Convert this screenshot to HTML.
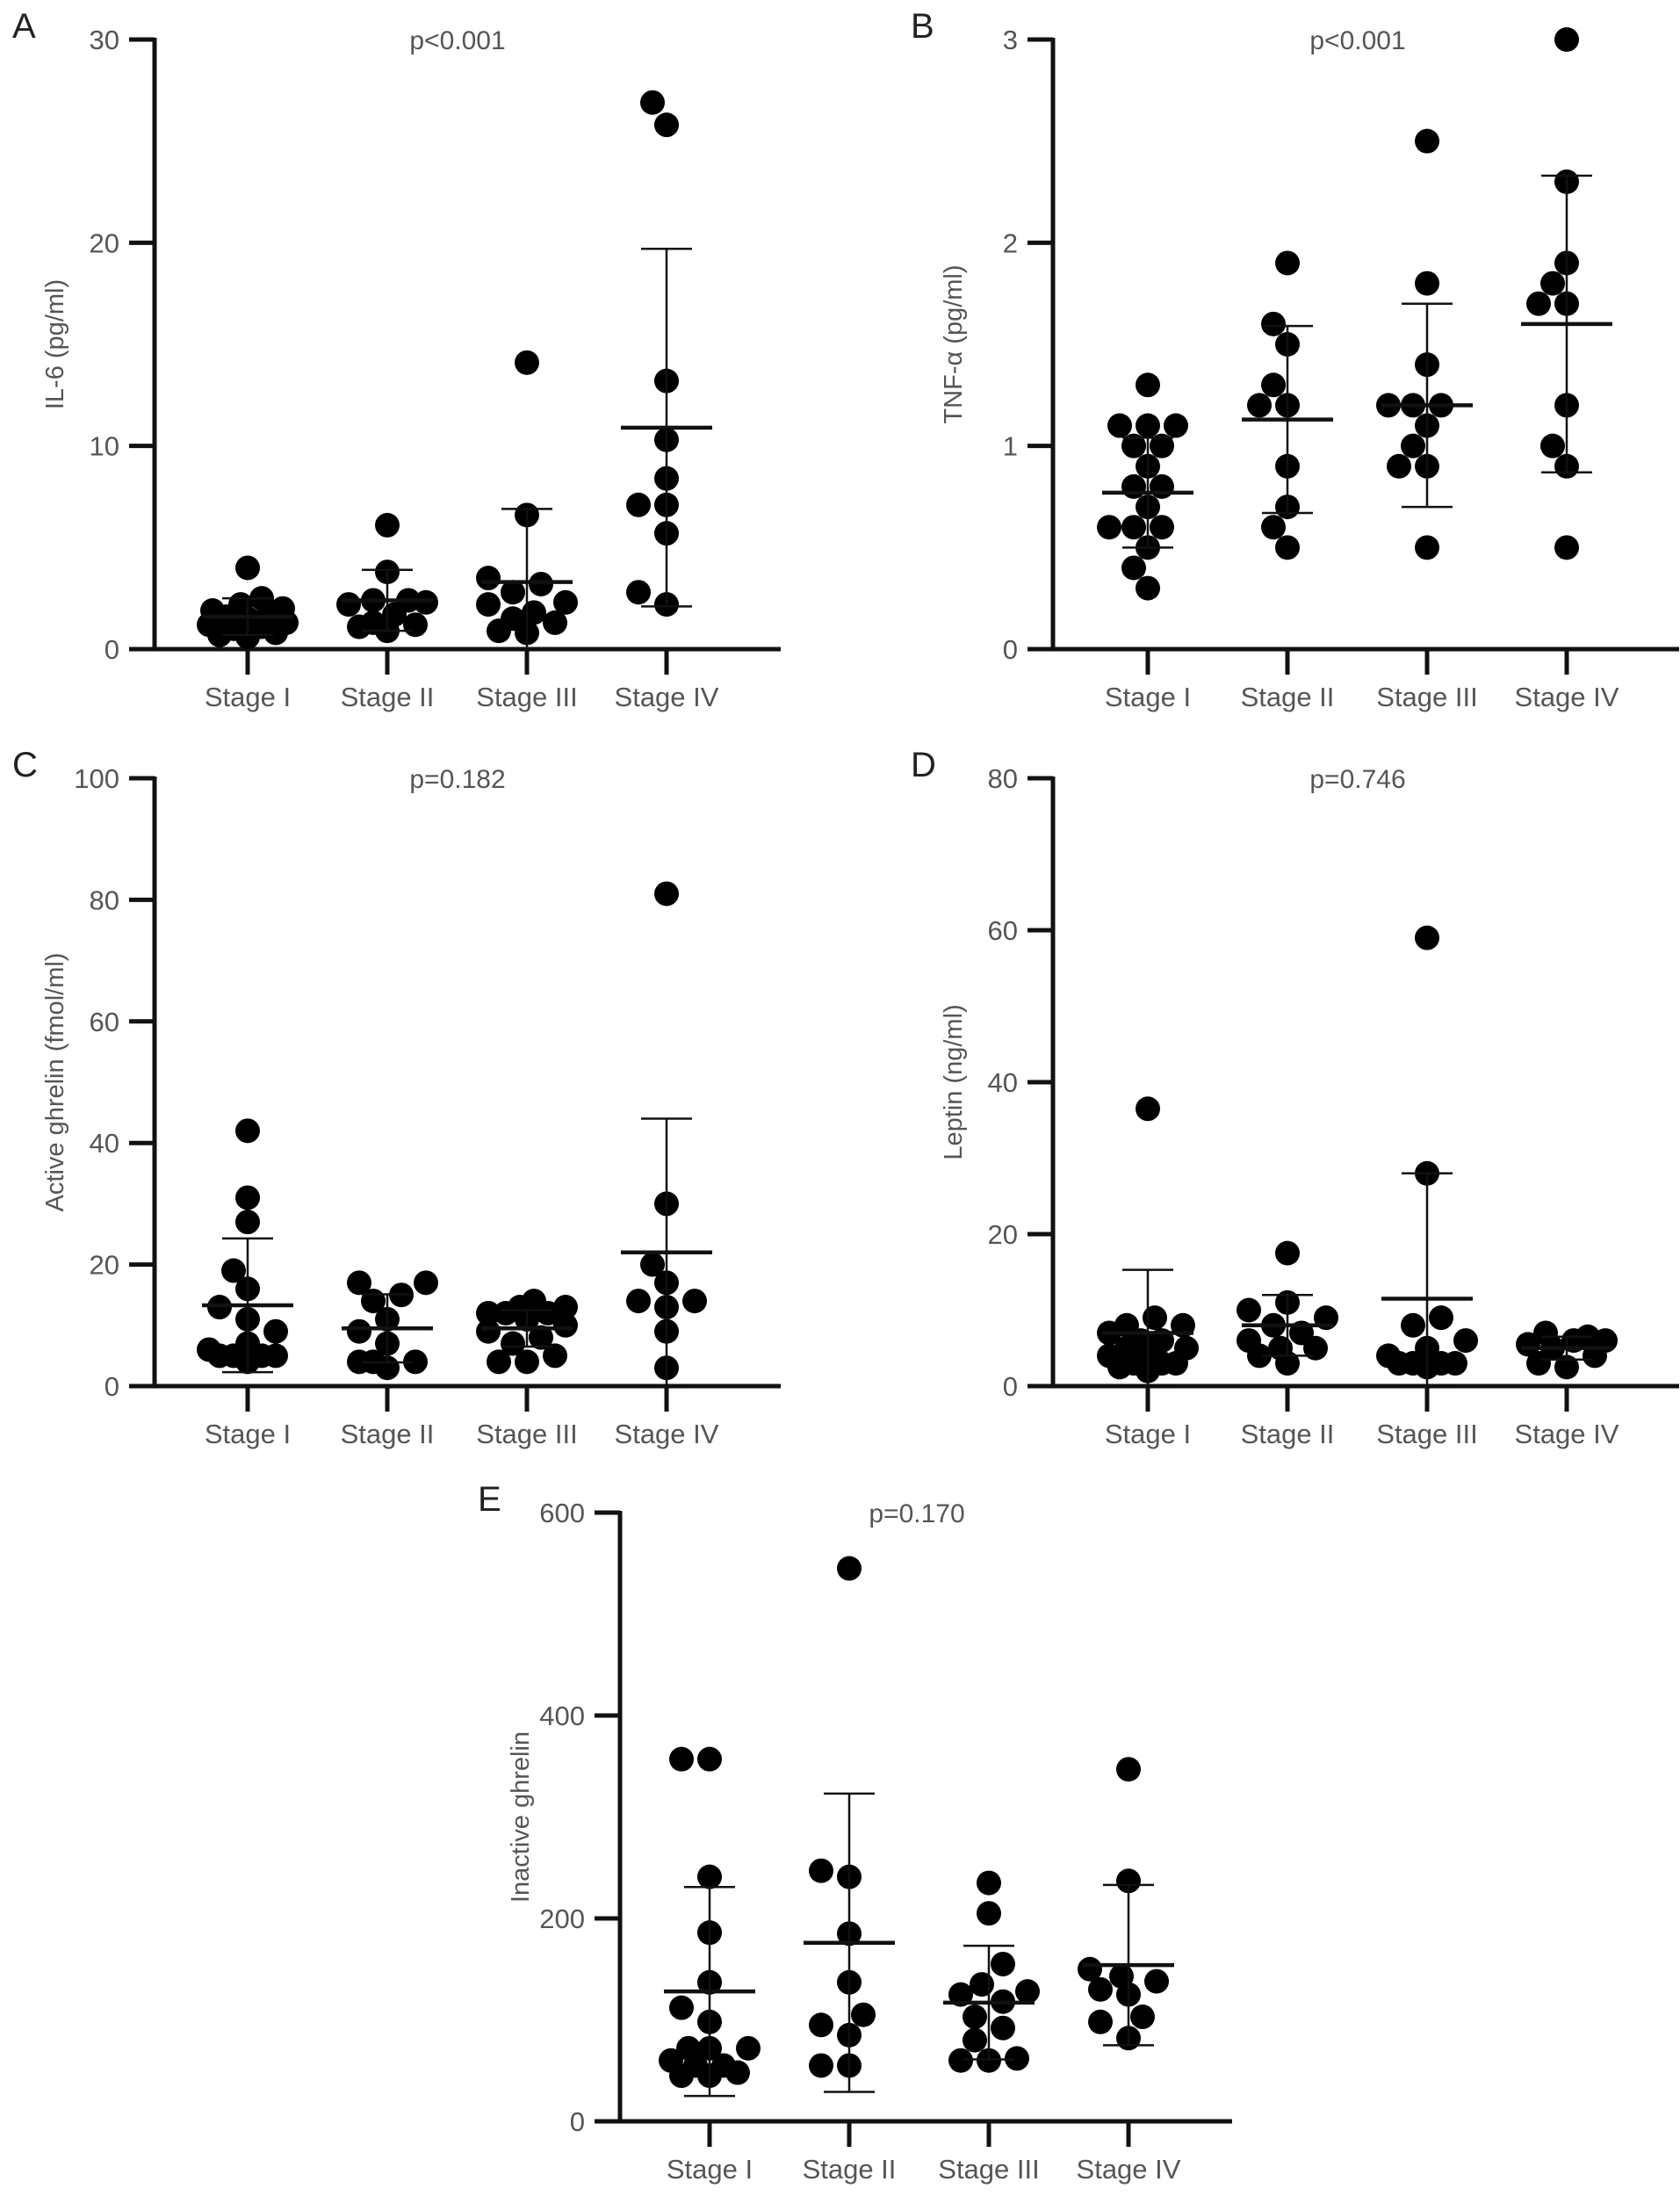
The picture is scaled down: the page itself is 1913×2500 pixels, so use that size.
<!DOCTYPE html>
<html><head><meta charset="utf-8"><style>
html,body{margin:0;padding:0;background:#fff;}
svg{display:block;font-family:"Liberation Sans",Arial,sans-serif;}
</style></head>
<body>
<svg id="fig" width="1913" height="2500" viewBox="0 0 1913 2500" xmlns="http://www.w3.org/2000/svg"></svg>
<script>
const categories = ["Stage I","Stage II","Stage III","Stage IV"];

const il6Values = [
  [4.0,2.5,2.2,2.0,1.8,1.5,1.2,1.0,0.8,0.7,1.3,1.9,1.1,0.6,1.6],
  [6.1,3.8,2.4,2.3,2.2,1.3,1.2,1.1,0.9,1.7,2.4],
  [14.1,6.6,3.5,3.2,2.8,2.3,2.2,1.8,1.3,1.5,0.9,0.8],
  [26.9,25.8,13.2,10.3,8.4,7.1,7.1,5.7,2.8,2.2]
];
const il6Means = [1.6,2.4,3.3,10.9];
const il6Sds = [0.9,1.5,3.6,8.8];
const il6Ticks = [0,10,20,30];

const tnfValues = [
  [1.3,1.1,1.1,1.1,1.0,1.0,0.9,0.8,0.7,0.6,0.6,0.6,0.5,0.4,0.3,0.8],
  [1.9,1.6,1.5,1.3,1.2,1.2,0.9,0.7,0.6,0.5],
  [2.5,1.8,1.4,1.2,1.2,1.2,1.1,1.0,0.9,0.9,0.5],
  [3.0,2.3,1.9,1.8,1.7,1.7,1.2,1.0,0.9,0.5]
];
const tnfMeans = [0.77,1.13,1.2,1.6];
const tnfSds = [0.27,0.46,0.5,0.73];
const tnfTicks = [0,1,2,3];

const activeValues = [
  [42,31,27,19,16,13,11,9,7,6,5,5,5,5,4],
  [17,15,14,17,11,9,7,4,4,4,3],
  [13,13,12,12,12,14,11,10,9,8,7,5,4,4],
  [81,30,20,17,14,14,13,9,3]
];
const activeMeans = [13.3,9.5,9.5,22];
const activeSds = [11,5.6,3,22];
const activeTicks = [0,20,40,60,80,100];

const leptinValues = [
  [36.5,9,8,8,7,6,6,5,5,4,4,3,3,3,2.5,2],
  [17.5,11,10,9,8,7,6,5,5,4,3],
  [59,28,9,8,6,5,4,3,3,3,3,2.5],
  [7,6.5,6,6,5.5,5,4,3,2.5]
];
const leptinMeans = [7,8,11.5,5];
const leptinSds = [8.3,4,16.5,1.5];
const leptinTicks = [0,20,40,60,80];

const inactiveValues = [
  [357,357,241,186,137,112,98,72,72,72,60,55,55,45,45,48],
  [545,247,241,185,137,105,95,85,55,55],
  [235,205,155,135,128,125,118,103,92,80,62,60,60],
  [347,237,150,143,138,130,125,103,98,82]
];
const inactiveMeans = [128,176,117,154];
const inactiveSds = [103,147,56,79];
const inactiveTicks = [0,200,400,600];

const NS = "http://www.w3.org/2000/svg";
const svg = document.getElementById("fig");
function mk(tag, attrs, parent){
  const e = document.createElementNS(NS, tag);
  for (const k in attrs) e.setAttribute(k, attrs[k]);
  (parent||svg).appendChild(e);
  return e;
}

function panel(cfg){
  const g = mk("g", {});
  
  
  const yMax = cfg.ticks[cfg.ticks.length-1];
  const yS = v => cfg.yBot - (v / yMax) * (cfg.yBot - cfg.yTop);
  const xS = i => cfg.cat0 + i * 159;
  const L = mk("text", {x:cfg.axisX-162, y:cfg.yTop-2, "font-size":40, fill:"#222"}, g);
  L.textContent = cfg.letter;
  
  
  const P = mk("text", {x:cfg.pX, y:cfg.yTop+11, "font-size":30, fill:"#555", "text-anchor":"middle"}, g);
  P.textContent = cfg.p;
  
  
  const cy = (cfg.yTop + cfg.yBot)/2;
  const T = mk("text", {x:0, y:0, "font-size":29, fill:"#555", "text-anchor":"middle", transform:`translate(${cfg.axisX-104},${cy}) rotate(-90)`}, g);
  T.textContent = cfg.title;
  
  
  const ya = mk("line", {x1:cfg.axisX, y1:cfg.yTop-2, x2:cfg.axisX, y2:cfg.yBot, stroke:"#111", "stroke-width":5}, g);
  
  
  const xa = mk("line", {x1:cfg.axisX-29, y1:cfg.yBot, x2:cfg.xRight, y2:cfg.yBot, stroke:"#111", "stroke-width":5}, g);
  
  
  cfg.ticks.forEach(t => {
    const y = yS(t);
    if (t !== 0) {
      const tk = mk("line", {x1:cfg.axisX-29, y1:y, x2:cfg.axisX, y2:y, stroke:"#111", "stroke-width":5}, g);
      
      
    }
    const tl = mk("text", {x:cfg.axisX-40, y:y+11, "font-size":31, fill:"#555", "text-anchor":"end"}, g);
    tl.textContent = t;
    
    
  });
  categories.forEach((c, i) => {
    const x = xS(i);
    const tk = mk("line", {x1:x, y1:cfg.yBot, x2:x, y2:cfg.yBot+29, stroke:"#111", "stroke-width":5}, g);
    
    
    const tl = mk("text", {x:x, y:cfg.yBot+65, "font-size":31, fill:"#555", "text-anchor":"middle"}, g);
    tl.textContent = c;
    
    
  });
  const r = 14;
  cfg.values.forEach((arr, i) => {
    const cx0 = xS(i);
    const placed = [];
    const sorted = arr.slice().sort((a,b)=>a-b);
    const d = 26;
    const offs = [0,-16,16,-32,32,-44,44,-8,8,-24,24,-40,40];
    sorted.forEach(v => {
      const y = yS(v);
      let chosen = null, best = -1, bestX = cx0;
      for (const off of offs) {
        const x = cx0 + off;
        const md = placed.length ? Math.min(...placed.map(p => Math.hypot(p[0]-x, p[1]-y))) : 1e9;
        if (md >= d) { chosen = x; break; }
        if (md > best) { best = md; bestX = x; }
      }
      if (chosen === null) chosen = bestX;
      placed.push([chosen, y]);
      const dot = mk("circle", {cx:chosen, cy:y, r:r, fill:"#000"}, g);
      
      
    });
    const m = cfg.means[i], s = cfg.sds[i];
    const hi = yS(m + s), lo = yS(Math.max(0, m - s));
    const sd = mk("line", {x1:cx0, y1:hi, x2:cx0, y2:lo, stroke:"#111", "stroke-width":2.5}, g);
    
    
    [hi, lo].forEach(yy => {
      const cap = mk("line", {x1:cx0-29, y1:yy, x2:cx0+29, y2:yy, stroke:"#111", "stroke-width":2.5}, g);
      
      
    });
    const mean = mk("line", {x1:cx0-52, y1:yS(m), x2:cx0+52, y2:yS(m), stroke:"#111", "stroke-width":4.5}, g);
    
    
  });
}

panel({name:"panel-a-il6", letter:"A", p:"p<0.001", title:"IL-6 (pg/ml)", values:il6Values, means:il6Means, sds:il6Sds, ticks:il6Ticks, axisX:176, yTop:45, yBot:739, xRight:889, cat0:282, pX:521});
panel({name:"panel-b-tnf", letter:"B", p:"p<0.001", title:"TNF-α (pg/ml)", values:tnfValues, means:tnfMeans, sds:tnfSds, ticks:tnfTicks, axisX:1199, yTop:45, yBot:739, xRight:1912, cat0:1307, pX:1546});
panel({name:"panel-c-active-ghrelin", letter:"C", p:"p=0.182", title:"Active ghrelin (fmol/ml)", values:activeValues, means:activeMeans, sds:activeSds, ticks:activeTicks, axisX:176, yTop:886, yBot:1578, xRight:889, cat0:282, pX:521});
panel({name:"panel-d-leptin", letter:"D", p:"p=0.746", title:"Leptin (ng/ml)", values:leptinValues, means:leptinMeans, sds:leptinSds, ticks:leptinTicks, axisX:1199, yTop:886, yBot:1578, xRight:1912, cat0:1307, pX:1546});
panel({name:"panel-e-inactive-ghrelin", letter:"E", p:"p=0.170", title:"Inactive ghrelin", values:inactiveValues, means:inactiveMeans, sds:inactiveSds, ticks:inactiveTicks, axisX:706, yTop:1722, yBot:2415, xRight:1403, cat0:808, pX:1044});
</script>
</body></html>
